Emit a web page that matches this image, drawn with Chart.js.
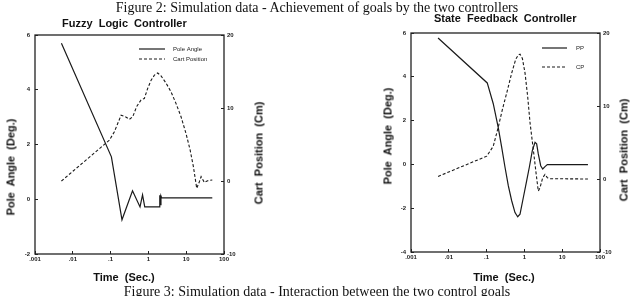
<!DOCTYPE html>
<html>
<head>
<meta charset="utf-8">
<script src="https://cdn.jsdelivr.net/npm/chart.js@4.4.1/dist/chart.umd.min.js"></script>
<style>
  html, body { margin: 0; padding: 0; background: #fff; }
  #wrap { position: relative; width: 640px; height: 296px; overflow: hidden; }
  canvas { position: absolute; top: 0; }
  .cap { position: absolute; left: 0; width: 634px; text-align: center; font-family: "Liberation Serif", serif; font-size: 14px; line-height: 15px; color: #111; white-space: pre; }
  .ttl { position: absolute; font-family: "Liberation Sans", Arial, sans-serif; font-weight: bold; font-size: 11px; line-height: 13px; color: #111; white-space: pre; }
  .rot { transform: translate(-50%, -50%) rotate(-90deg); }
  .mid { transform: translate(-50%, -50%); }
</style>
</head>
<body>
<div id="wrap">
  <canvas id="fuzzyChart" width="320" height="296" style="left:0"></canvas>
  <canvas id="stateChart" width="320" height="296" style="left:320px"></canvas>
  <div class="cap" style="top:0px">Figure 2: Simulation data - Achievement of goals by the two controllers</div>
  <div class="cap" style="top:284px">Figure 3: Simulation data - Interaction between the two control goals</div>
  <div class="ttl" style="left:62px;top:17px">Fuzzy  Logic  Controller</div>
  <div class="ttl" style="left:434px;top:12px">State  Feedback  Controller</div>
  <div class="ttl rot" style="left:11px;top:167px">Pole  Angle  (Deg.)</div>
  <div class="ttl rot" style="left:259px;top:153px">Cart  Position  (Cm)</div>
  <div class="ttl rot" style="left:388px;top:136px">Pole  Angle  (Deg.)</div>
  <div class="ttl rot" style="left:624px;top:150px">Cart  Position  (Cm)</div>
  <div class="ttl mid" style="left:124px;top:277px">Time  (Sec.)</div>
  <div class="ttl mid" style="left:504px;top:277px">Time  (Sec.)</div>
</div>
<script>
// log time axis, shared by both plots
const xTicks = [0.001, 0.01, 0.1, 1, 10, 100];
const xTickLabels = ['.001', '.01', '.1', '1', '10', '100'];

// Fuzzy logic controller: pole angle (deg) and cart position (cm)
const fuzzyAngleT = [0.005, 0.105, 0.2, 0.38, 0.6, 0.7, 0.8, 1.95, 2.0, 2.08, 2.15, 2.25, 49];
const fuzzyAngle  = [5.7, 1.55, -0.75, 0.31, -0.28, 0.16, -0.28, -0.28, 0.15, -0.2, 0.12, 0.05, 0.05];
const fuzzyCartT = [0.005, 0.093, 0.126, 0.189, 0.246, 0.314, 0.385, 0.49, 0.64, 0.78, 0.96, 1.18, 1.44, 1.76, 2.16, 2.94,
  3.98, 5.4, 7.3, 9.9, 12.7, 15.5, 19.0, 22.3, 24.8, 30.3, 37, 49];
const fuzzyCart  = [0, 5.6, 6.75, 9.0, 8.8, 8.45, 8.8, 10.2, 11.1, 11.3, 12.7, 13.8, 14.5, 14.8, 14.4, 13.4,
  12.2, 10.6, 8.8, 6.5, 4.25, 1.96, -1.0, -0.1, 0.6, -0.2, 0.04, 0.14];

// State feedback controller
const stateAngleT = [0.0052, 0.104, 0.15, 0.204, 0.251, 0.307, 0.375, 0.461, 0.564, 0.665, 0.766, 0.94, 1.15, 1.35, 1.62,
  1.91, 2.11, 2.33, 2.7, 3.05, 3.51, 4.04, 48];
const stateAngle  = [5.77, 3.72, 2.77, 1.67, 0.78, -0.13, -0.97, -1.66, -2.2, -2.39, -2.27, -1.5, -0.74, -0.13, 0.63,
  1.01, 0.94, 0.48, -0.06, -0.21, -0.1, -0.01, -0.01];
const stateCartT = [0.0052, 0.101, 0.15, 0.204, 0.261, 0.34, 0.461, 0.589, 0.69, 0.766, 0.885, 1.04, 1.22, 1.41, 1.72,
  2.03, 2.33, 2.59, 3.05, 3.51, 4.04, 4.75, 48];
const stateCart  = [0.35, 3.13, 4.49, 7.13, 9.5, 11.77, 14.5, 16.4, 17.0, 17.1, 16.5, 14.5, 11.3, 7.7, 4.04,
  0.86, -1.65, -1.19, 0.18, 0.63, 0.18, 0.04, 0.0];

const ink = '#1a1a1a';
const tickFont = { family: 'Liberation Sans', size: 6, weight: 'bold' };

function pts(ts, vs) {
  return ts.map((t, i) => ({ x: t, y: vs[i] }));
}

// box around the plot area
const frame = {
  id: 'frame',
  afterDatasetsDraw(chart) {
    const { ctx, chartArea: a } = chart;
    ctx.save();
    ctx.strokeStyle = '#222';
    ctx.lineWidth = 1.3;
    ctx.strokeRect(a.left, a.top, a.right - a.left, a.bottom - a.top);
    ctx.restore();
  }
};

// small key with line samples, drawn from the datasets
const lineKey = {
  id: 'lineKey',
  afterDraw(chart, args, opts) {
    const ctx = chart.ctx;
    chart.data.datasets.forEach((ds, i) => {
      const y = opts.y + i * opts.gap;
      ctx.save();
      ctx.strokeStyle = ds.borderColor;
      ctx.lineWidth = ds.borderWidth;
      ctx.setLineDash(ds.borderDash || []);
      ctx.beginPath();
      ctx.moveTo(opts.x, y);
      ctx.lineTo(opts.x + opts.len, y);
      ctx.stroke();
      ctx.fillStyle = '#222';
      ctx.font = '6px "Liberation Sans"';
      ctx.textBaseline = 'middle';
      ctx.fillText(ds.label, opts.textX, y);
      ctx.restore();
    });
  }
};

function sized(prop, size) {
  return scale => {
    scale[prop] = size;
    scale.paddingTop = scale.paddingBottom = scale.paddingLeft = scale.paddingRight = 0;
  };
}

function axis(extra) {
  return Object.assign({
    border: { display: false },
    grid: { drawOnChartArea: false, tickLength: -3, color: '#222', lineWidth: 1 },
  }, extra);
}

function makeChart(id, opt) {
  const ctx = document.getElementById(id).getContext('2d');
  return new Chart(ctx, {
    type: 'line',
    data: {
      datasets: [
        { label: opt.labels[0], data: opt.angle, yAxisID: 'y', borderColor: ink, borderWidth: 1.2, pointRadius: 0, tension: 0, fill: false },
        { label: opt.labels[1], data: opt.cart, yAxisID: 'y2', borderColor: ink, borderWidth: 1.1, borderDash: [3, 2], pointRadius: 0, tension: 0, fill: false }
      ]
    },
    options: {
      responsive: false,
      animation: false,
      layout: { padding: { top: opt.top, left: 0, right: 0, bottom: 0 } },
      scales: {
        x: axis({
          type: 'logarithmic', position: 'bottom', min: 0.001, max: 100,
          afterBuildTicks: s => { s.ticks = xTicks.map(v => ({ value: v })); },
          afterFit: sized('height', opt.xH),
          ticks: { callback: (v, i) => xTickLabels[i], autoSkip: false, maxRotation: 0, padding: 5, color: '#222', font: tickFont }
        }),
        y: axis({
          type: 'linear', position: 'left', min: opt.yMin, max: 6,
          afterFit: sized('width', opt.yW),
          ticks: { stepSize: 2, padding: 8, color: '#222', font: tickFont }
        }),
        y2: axis({
          type: 'linear', position: 'right', min: -10, max: 20,
          afterFit: sized('width', opt.y2W),
          ticks: { stepSize: 10, padding: 6, color: '#222', font: tickFont }
        })
      },
      plugins: {
        legend: { display: false },
        tooltip: { enabled: false },
        lineKey: opt.key
      }
    },
    plugins: [frame, lineKey]
  });
}

makeChart('fuzzyChart', {
  labels: ['Pole Angle', 'Cart Position'],
  angle: pts(fuzzyAngleT, fuzzyAngle),
  cart: pts(fuzzyCartT, fuzzyCart),
  yMin: -2,
  top: 35, xH: 42, yW: 35, y2W: 96,
  key: { x: 139, len: 26, textX: 173, y: 49, gap: 10 }
});

makeChart('stateChart', {
  labels: ['PP', 'CP'],
  angle: pts(stateAngleT, stateAngle),
  cart: pts(stateCartT, stateCart),
  yMin: -4,
  top: 33, xH: 44, yW: 91, y2W: 40,
  key: { x: 222, len: 25, textX: 256, y: 48, gap: 19 }
});
</script>
</body>
</html>
